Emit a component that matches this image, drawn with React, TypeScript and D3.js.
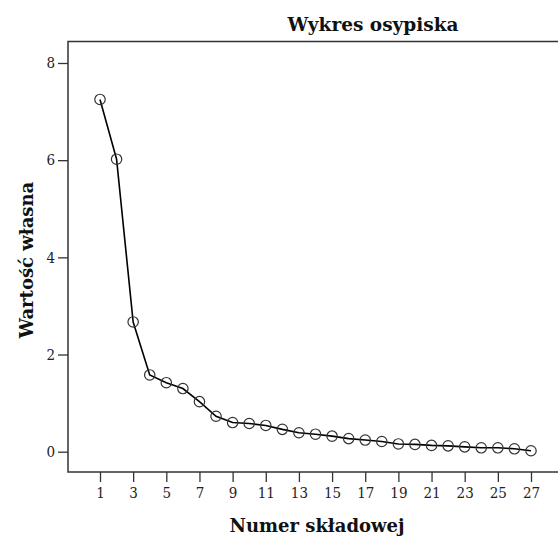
import { useEffect, useRef } from 'react';
import * as d3 from 'd3';

const W = 558;
const H = 542;

const components = d3.range(1, 28);
const eigenvalues = [
  7.25, 6.02, 2.67, 1.58, 1.42, 1.3, 1.03, 0.73, 0.6, 0.58,
  0.54, 0.46, 0.39, 0.36, 0.32, 0.27, 0.24, 0.21, 0.16, 0.15,
  0.13, 0.12, 0.1, 0.08, 0.08, 0.06, 0.02,
];
const xTicks = d3.range(1, 28, 2);
const yTicks = [0, 2, 4, 6, 8];

const TITLE = 'Wykres osypiska';
const X_LABEL = 'Numer składowej';
const Y_LABEL = 'Wartość własna';

export default function App() {
  const svgRef = useRef<SVGSVGElement>(null);

  useEffect(() => {
    const svgEl = svgRef.current;
    if (!svgEl) return;
    const svg = d3.select(svgEl);
    svg.selectAll('*').remove();

    const left = 68, top = 41.5, right = 562, bottom = 472;
    const x = d3.scaleLinear().domain([1, 27]).range([100, 531]);
    const y = d3.scaleLinear().domain([0, 8]).range([451.7, 63]);
    const serif = '"DejaVu Serif", "Liberation Serif", serif';
    const tickFont = '"DejaVu Serif Condensed", "DejaVu Serif", serif';

    svg.append('rect').attr('width', W).attr('height', H).attr('fill', '#fff');

    // frame
    svg.append('rect')
      .attr('x', left).attr('y', top)
      .attr('width', right - left).attr('height', bottom - top)
      .attr('fill', 'none').attr('stroke', '#333').attr('stroke-width', 1.5);

    // y axis
    svg.append('g').attr('transform', `translate(${left},0)`)
      .call(d3.axisLeft(y).tickValues(yTicks).tickSize(10).tickSizeOuter(0).tickPadding(3))
      .call((g) => g.select('.domain').remove())
      .call((g) => g.selectAll('line').attr('stroke', '#333').attr('stroke-width', 1.3))
      .call((g) => g.selectAll('text').attr('font-family', tickFont).attr('font-size', 15).attr('fill', '#222'));

    // x axis
    svg.append('g').attr('transform', `translate(0,${bottom})`)
      .call(d3.axisBottom(x).tickValues(xTicks).tickSize(10).tickSizeOuter(0).tickPadding(5))
      .call((g) => g.select('.domain').remove())
      .call((g) => g.selectAll('line').attr('stroke', '#333').attr('stroke-width', 1.3))
      .call((g) => g.selectAll('text').attr('font-family', tickFont).attr('font-size', 15).attr('fill', '#222'));

    const pts = components.map((c, i) => ({ c, v: eigenvalues[i] }));

    svg.append('path')
      .datum(pts)
      .attr('fill', 'none').attr('stroke', '#000').attr('stroke-width', 1.6)
      .attr('d', d3.line<{ c: number; v: number }>().x((d) => x(d.c)).y((d) => y(d.v)));

    svg.selectAll('.pt').data(pts).join('circle')
      .attr('cx', (d) => x(d.c)).attr('cy', (d) => y(d.v)).attr('r', 5.2)
      .attr('fill', 'none').attr('stroke', '#333').attr('stroke-width', 1.2);

    svg.append('text')
      .attr('x', 373).attr('y', 31).attr('text-anchor', 'middle')
      .attr('font-family', serif).attr('font-weight', 'bold').attr('font-size', 18.5).attr('fill', '#111')
      .text(TITLE);

    svg.append('text')
      .attr('x', 317).attr('y', 532).attr('text-anchor', 'middle')
      .attr('font-family', serif).attr('font-weight', 'bold').attr('font-size', 18).attr('fill', '#111')
      .text(X_LABEL);

    svg.append('text')
      .attr('transform', 'translate(33,260) rotate(-90)').attr('text-anchor', 'middle')
      .attr('font-family', serif).attr('font-weight', 'bold').attr('font-size', 18).attr('fill', '#111')
      .text(Y_LABEL);
  }, []);

  return (
    <svg ref={svgRef} width={W} height={H}
      style={{ position: 'absolute', left: 0, top: 0, display: 'block' }} />
  );
}
